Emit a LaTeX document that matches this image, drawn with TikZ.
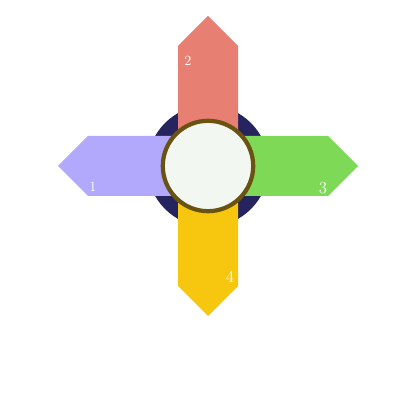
\documentclass[tikz,border=0pt]{standalone}
\usepackage{tikz}
\usetikzlibrary{calc,shapes}
\definecolor{rouge}{HTML}{E77F72}
\definecolor{violet}{HTML}{B3A9FC}
\definecolor{vert}{HTML}{7ED957}
\definecolor{jaune}{HTML}{F7C710}
\definecolor{marine}{HTML}{26245E}
\definecolor{creme}{HTML}{F2F8F1}
\definecolor{brun}{HTML}{6A5211}
\tikzset{fleche/.style={fill=#1,draw=none},
	chiffre/.style={text=white,inner sep=0pt}}
\begin{document}
\begin{tikzpicture}
				\useasboundingbox (0,0) rectangle (10,10);
				\coordinate (centre) at (5.2,5.85);
				% Cercle sombre
				\fill [marine] (centre) circle (1.52);
				% Flèches
				\foreach \ang/\coul in {180/violet,90/rouge,0/vert,270/jaune}
				\fill [fleche=\coul,rotate around={\ang:(centre)}] ($(centre)+(0,-0.75)$) -- ++(3,0) -- ++(0.75,0.75) -- ++(-0.75,0.75) -- ++(-3,0) -- cycle;
				% Cercle central
				\draw [brun,line width=3pt,fill=creme] (centre) circle (1.13);
				\node [chiffre] (un) at ($(centre)+(-2.875,-0.53)$) {1};
				\node [chiffre] (deux) at ($(centre)+(-0.5,2.625)$) {2};
				\node [chiffre,font=\large] (trois) at ($(centre)+(2.875,-0.55)$) {3};
				\node [chiffre,font=\large] (quatre) at ($(centre)+(0.55,-2.775)$) {4};
				\end{tikzpicture}
\end{document}
